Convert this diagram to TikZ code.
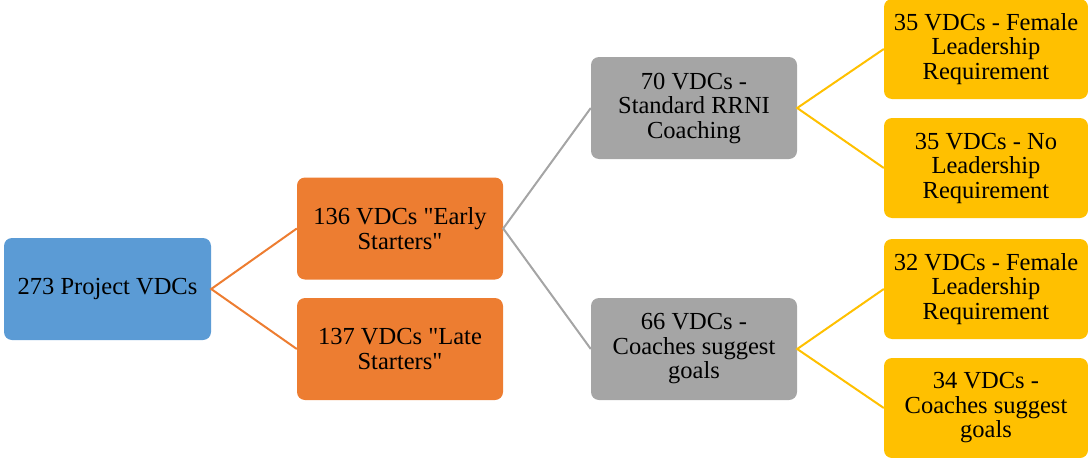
\documentclass[tikz,border=0pt]{standalone}
\usepackage{fontspec}
\setmainfont{Liberation Serif}
\definecolor{cblue}{HTML}{5B9BD5}
\definecolor{corange}{HTML}{ED7D31}
\definecolor{cgray}{HTML}{A5A5A5}
\definecolor{cyellow}{HTML}{FFC000}
\begin{document}
\begin{tikzpicture}[x=1pt,y=-1pt,
  box/.style={rounded corners=8pt, minimum width=206pt, minimum height=102pt, align=center, inner sep=0pt, text=black, font=\fontsize{24.5}{24.5}\selectfont},
  bluebox/.style={box, fill=cblue},
  orangebox/.style={box, fill=corange},
  graybox/.style={box, fill=cgray},
  yellowbox/.style={box, fill=cyellow, minimum width=204pt, minimum height=100pt},
  link/.style={line width=2pt}]
\useasboundingbox (0,0) rectangle (1088,458);
\node[bluebox, minimum width=207pt] (A) at (107.5,289) {273 Project VDCs};
\node[orangebox] (O1) at (400,228.5) {136 VDCs \textquotedbl Early\\Starters\textquotedbl};
\node[orangebox] (O2) at (400,349) {137 VDCs \textquotedbl Late\\Starters\textquotedbl};
\node[graybox] (G1) at (694,108) {70 VDCs -\\Standard RRNI\\Coaching};
\node[graybox] (G2) at (694,349) {66 VDCs -\\Coaches suggest\\goals};
\node[yellowbox] (Y1) at (986,49) {35 VDCs - Female\\Leadership\\Requirement};
\node[yellowbox] (Y2) at (986,168) {35 VDCs - No\\Leadership\\Requirement};
\node[yellowbox] (Y3) at (986,289) {32 VDCs - Female\\Leadership\\Requirement};
\node[yellowbox] (Y4) at (986,408) {34 VDCs -\\Coaches suggest\\goals};
\draw[link, corange] (O1.west) -- (A.east) -- (O2.west);
\draw[link, cgray] (G1.west) -- (O1.east) -- (G2.west);
\draw[link, cyellow] (Y1.west) -- (G1.east) -- (Y2.west);
\draw[link, cyellow] (Y3.west) -- (G2.east) -- (Y4.west);
\end{tikzpicture}
\end{document}
